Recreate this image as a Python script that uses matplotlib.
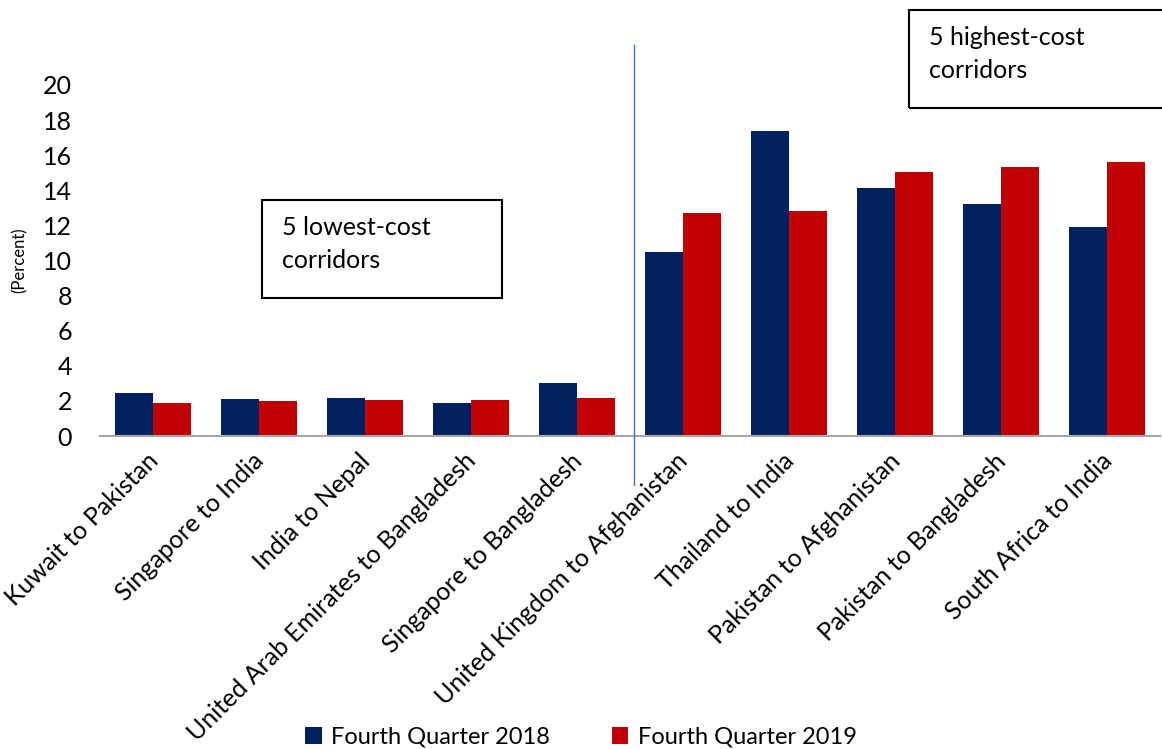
import numpy as np
import matplotlib
matplotlib.use("Agg")
from matplotlib import pyplot as plt
from matplotlib.patches import Rectangle
from matplotlib.lines import Line2D
from matplotlib.transforms import ScaledTranslation

plt.rcParams['font.family'] = ['Lato', 'DejaVu Sans']

corridors = ["Kuwait to Pakistan", "Singapore to India", "India to Nepal",
             "United Arab Emirates to Bangladesh", "Singapore to Bangladesh",
             "United Kingdom to Afghanistan", "Thailand to India",
             "Pakistan to Afghanistan", "Pakistan to Bangladesh",
             "South Africa to India"]
q4_2018 = [2.45, 2.1, 2.15, 1.88, 3.0, 10.5, 17.4, 14.15, 13.2, 11.92]
q4_2019 = [1.88, 1.98, 2.03, 2.03, 2.17, 12.7, 12.8, 15.03, 15.32, 15.62]

W, H = 1162, 749
fig = plt.figure(figsize=(W / 100, H / 100), dpi=100)
ax = fig.add_axes([100 / W, 1 - 436 / H, 1060 / W, 351 / H])

x = np.arange(len(corridors))
bw = 0.36
ax.bar(x - bw / 2, q4_2018, bw, color="#002060", label="Fourth Quarter 2018")
ax.bar(x + bw / 2, q4_2019, bw, color="#C00000", label="Fourth Quarter 2019")

ax.set_xlim(-0.5, len(corridors) - 0.5)
ax.set_ylim(0, 20)
ax.set_yticks(range(0, 21, 2))
ax.tick_params(axis="y", length=0, labelsize=18, pad=20)
ax.tick_params(axis="x", length=0, pad=8)
ax.set_xticks(x)
ax.set_xticklabels(corridors, rotation=45, ha="right", rotation_mode="anchor",
                   fontsize=18)
shift = ScaledTranslation(-0.07, -0.02, fig.dpi_scale_trans)
for lab in ax.get_xticklabels():
    lab.set_transform(lab.get_transform() + shift)
for s in ["top", "right", "left"]:
    ax.spines[s].set_visible(False)
ax.spines["bottom"].set_color("#A6A6A6")
ax.spines["bottom"].set_linewidth(1.5)

fig.text(20 / W, 1 - 260 / H, "(Percent)", rotation=90, fontsize=12,
         ha="center", va="center")

# divider between low and high cost groups
fig.add_artist(Line2D([634 / W, 634 / W], [1 - 45 / H, 1 - 485 / H],
                      color="#4472C4", lw=1))

# annotation boxes
fig.add_artist(Rectangle((262 / W, 1 - 298 / H), 240 / W, 98 / H,
                         transform=fig.transFigure, fill=False,
                         edgecolor="black", lw=1.5))
fig.text(282 / W, 1 - 216 / H, "5 lowest-cost\ncorridors", fontsize=18,
         ha="left", va="top", linespacing=1.5)
fig.add_artist(Rectangle((909 / W, 1 - 108 / H), 300 / W, 98 / H,
                         transform=fig.transFigure, fill=False,
                         edgecolor="black", lw=1.5))
fig.text(929 / W, 1 - 26 / H, "5 highest-cost\ncorridors", fontsize=18,
         ha="left", va="top", linespacing=1.5)

fig.legend(loc="center", bbox_to_anchor=(0.5, 1 - 737 / H), ncol=2,
           frameon=False, fontsize=17, handlelength=0.7, handleheight=0.7,
           handletextpad=0.4, columnspacing=2.6)

fig.savefig("out.png", dpi=100)
